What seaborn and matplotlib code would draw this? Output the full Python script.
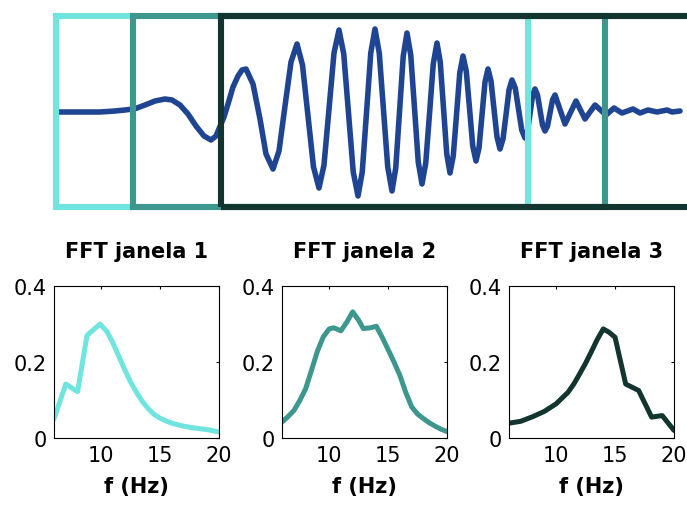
import matplotlib
matplotlib.use("Agg")
import matplotlib.pyplot as plt
from matplotlib.patches import Rectangle
import seaborn as sns

# ---------------- data ----------------
# top signal: sample index (fs = 400 Hz) and normalized amplitude
sig_n = [2, 24, 44, 59, 69, 77, 81, 89, 99, 109, 116, 124, 132, 140, 148, 155, 160, 165, 168, 172, 177, 182, 186, 190,
         197, 204, 210, 217,
         223, 229, 235, 241,
         246.5, 252, 257.5, 263,
         268, 273, 278, 283,
         287.75, 292.5, 297.25, 302,
         306.25, 310.5, 314.75, 319,
         323.25, 327.5, 331.75, 336,
         339.75, 343.5, 347.25, 351,
         354.75, 358.5, 362.25, 366,
         369.75, 373.5, 377.25, 381,
         384.25, 387.5, 390.75, 394,
         397.25, 400.5, 403.75, 407,
         410.25, 413.5, 416.75, 420,
         423, 426, 429, 432,
         435, 438, 441, 444,
         447, 450, 453, 456,
         459.25, 462.5, 465.75, 469,
         471.5, 474, 476.5, 479,
         481.5, 484, 486.5, 489,
         491.5, 494, 496.5, 499,
         509, 520, 529, 539, 550, 558, 566, 577, 584, 592, 601, 611, 616, 624]
sig_amp = [-0.01, -0.01, -0.01, 0.0, 0.01, 0.02, 0.03, 0.06, 0.10, 0.12, 0.11, 0.06, -0.03, -0.15, -0.25, -0.29, -0.25, -0.13, -0.06, 0.07, 0.24, 0.35, 0.41, 0.42,
           0.27, -0.08, -0.43, -0.58,
           -0.40, 0.05, 0.49, 0.67,
           0.46, -0.05, -0.56, -0.77,
           -0.54, 0.02, 0.58, 0.81,
           0.57, -0.02, -0.61, -0.85,
           -0.61, -0.02, 0.58, 0.82,
           0.58, 0.01, -0.56, -0.80,
           -0.57, -0.01, 0.55, 0.78,
           0.56, 0.03, -0.51, -0.73,
           -0.52, -0.03, 0.47, 0.68,
           0.49, 0.03, -0.43, -0.62,
           -0.45, -0.04, 0.38, 0.55,
           0.40, 0.03, -0.35, -0.50,
           -0.37, -0.04, 0.29, 0.42,
           0.30, 0.02, -0.26, -0.38,
           -0.28, -0.04, 0.21, 0.31,
           0.23, 0.02, -0.19, -0.27,
           -0.20, -0.03, 0.15, 0.22,
           0.16, 0.01, -0.14, -0.20,
           -0.15, -0.02, 0.11, 0.16,
           -0.13, 0.10, -0.08, 0.06, -0.04, 0.03, -0.02, 0.02, -0.02, 0.01, -0.01, 0.01, -0.01, 0.0]

win_start = [0, 77, 165]          # samples
win_len = 472                     # samples

# FFT spectra
f1 = [6, 7, 8, 8.8, 9.9, 10.5, 11, 11.5, 12, 12.5, 13, 13.5, 14, 14.5, 15, 15.5, 16, 17, 18, 19, 20]
a1 = [0.05, 0.142, 0.122, 0.27, 0.30, 0.28, 0.25, 0.215, 0.18, 0.147, 0.12, 0.096, 0.077, 0.062, 0.052, 0.045, 0.039,
      0.031, 0.026, 0.022, 0.016]

f2 = [6, 6.5, 7, 7.5, 8, 8.5, 9, 9.5, 10, 10.4, 11, 11.5, 12, 12.5, 12.9, 13.5, 14, 14.5, 15, 15.5, 16, 16.5, 17,
      17.5, 18, 18.5, 19, 19.5, 20]
a2 = [0.042, 0.056, 0.072, 0.098, 0.129, 0.178, 0.228, 0.266, 0.287, 0.29, 0.282, 0.305, 0.332, 0.31, 0.288, 0.29,
      0.294, 0.265, 0.233, 0.2, 0.165, 0.12, 0.082, 0.063, 0.051, 0.04, 0.031, 0.023, 0.017]

f3 = [6, 7, 8, 9, 10, 11, 11.5, 12, 12.5, 13, 13.5, 14, 14.5, 15, 15.9, 17, 18.1, 19, 20]
a3 = [0.039, 0.044, 0.056, 0.07, 0.09, 0.12, 0.142, 0.169, 0.197, 0.228, 0.26, 0.287, 0.278, 0.265, 0.142, 0.125,
      0.055, 0.059, 0.02]

titles = ["FFT janela 1", "FFT janela 2", "FFT janela 3"]
xticks = [10, 15, 20]
yticks = [0, 0.2, 0.4]
yticklabels = ["0", "0.2", "0.4"]

# ---------------- style ----------------
colors = ["#70E4DE", "#3E978F", "#12352F"]
sig_color = "#1F4592"

sns.set_theme(style="white")
plt.rcParams['font.family'] = ['DejaVu Sans']
plt.rcParams['text.color'] = 'black'
plt.rcParams['axes.labelcolor'] = 'black'

W, H = 687, 506
fig = plt.figure(figsize=(W / 100, H / 100), dpi=100)

# top signal panel
ax0 = fig.add_axes([0, (H - 225) / H, 1, 225 / H])
sns.lineplot(x=sig_n, y=sig_amp, ax=ax0, color=sig_color, linewidth=4.0, estimator=None, sort=False)
for s, c in zip(win_start, colors):
    ax0.add_patch(Rectangle((s, -0.96), win_len, 1.91, fill=False, edgecolor=c, linewidth=4.4,
                            joinstyle="miter", zorder=5))
ax0.set_xlim(-56, 631)
ax0.set_ylim(-1.13, 1.12)
ax0.set_axis_off()

# bottom FFT panels
lefts = [54, 282, 509]
series = [(f1, a1), (f2, a2), (f3, a3)]
for i, (lx, (fx, ay)) in enumerate(zip(lefts, series)):
    ax = fig.add_axes([lx / W, (H - 439) / H, 165 / W, 152 / H])
    sns.lineplot(x=fx, y=ay, ax=ax, color=colors[i], linewidth=3.6, estimator=None, sort=False)
    ax.set_xlim(6, 20)
    ax.set_ylim(0, 0.4)
    ax.set_xticks(xticks)
    ax.set_yticks(yticks)
    ax.set_yticklabels(yticklabels)
    ax.tick_params(direction="in", length=2.5, width=0.8, top=True, right=True,
                   labelsize=15, colors="black", pad=5)
    for sp in ax.spines.values():
        sp.set_visible(True)
        sp.set_color("black")
        sp.set_linewidth(0.8)
    ax.set_title(titles[i], fontsize=15, fontweight="bold", pad=21, color="black")
    ax.set_xlabel("f (Hz)", fontsize=15, fontweight="bold", labelpad=8, color="black")
    ax.set_ylabel("")

fig.savefig("out.png", dpi=100, facecolor="white")
